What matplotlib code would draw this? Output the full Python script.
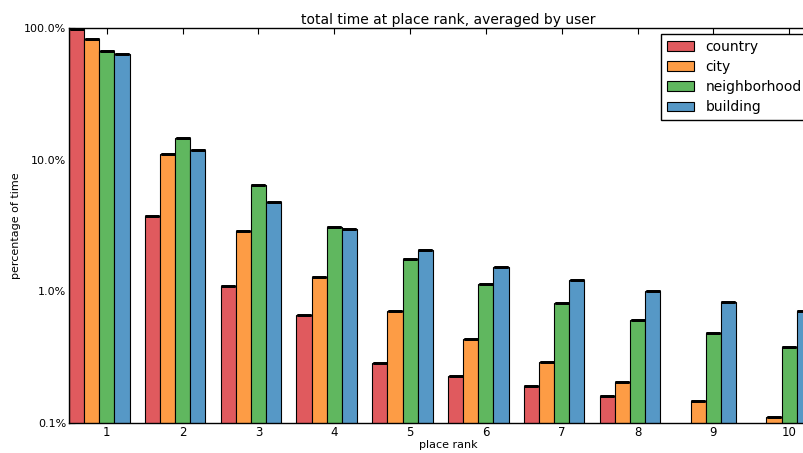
import numpy as np
import matplotlib
matplotlib.use("Agg")
import matplotlib.pyplot as plt
from matplotlib.ticker import FuncFormatter, LogLocator

ranks = [1, 2, 3, 4, 5, 6, 7, 8, 9, 10]
series = ["country", "city", "neighborhood", "building"]
country = [97.7, 3.74, 1.10, 0.665, 0.288, 0.226, 0.192, 0.159, 0.08, 0.07]
city = [83.0, 11.0, 2.88, 1.29, 0.71, 0.433, 0.291, 0.204, 0.147, 0.111]
neighborhood = [67.0, 14.5, 6.43, 3.08, 1.76, 1.145, 0.817, 0.61, 0.481, 0.38]
building = [63.5, 11.85, 4.80, 2.96, 2.06, 1.54, 1.22, 1.0, 0.83, 0.71]
colors = ["#e05a5e", "#fd9c45", "#60b75f", "#5698c6"]

fig = plt.figure(figsize=(8.04, 4.53), dpi=100)
ax = fig.add_axes([69/804, 30/453, (827-69)/804, (423-28)/453])

w = 0.2
x = np.array(ranks, dtype=float)
for k, (name, vals) in enumerate(zip(series, [country, city, neighborhood, building])):
    left = x - 0.5 + k * w
    ax.bar(left, vals, width=w, align="edge", color=colors[k], edgecolor="black",
           linewidth=0.8, label=name, zorder=2)
    ax.errorbar(left + w / 2, vals, yerr=0, fmt="none", ecolor="black",
                capsize=5.2, capthick=2, elinewidth=1, zorder=3)

ax.set_yscale("log")
ax.set_ylim(0.1, 100)
ax.set_xlim(0.5, 10.5)
ax.set_xticks(ranks)
ax.set_xticklabels([str(r) for r in ranks])
ax.yaxis.set_major_locator(LogLocator(base=10))
ax.yaxis.set_major_formatter(FuncFormatter(lambda v, p: "%.1f%%" % v))
ax.tick_params(which="both", direction="in", top=True, right=True, labelsize=8)
ax.tick_params(axis="x", labelsize=8.5)
ax.tick_params(which="major", length=4, pad=2)
ax.tick_params(which="minor", length=2)
ax.tick_params(axis="x", which="minor", bottom=False, top=False)
for s in ax.spines.values():
    s.set_linewidth(1.0)

ax.set_title("total time at place rank, averaged by user", fontsize=10, pad=3)
ax.set_xlabel("place rank", fontsize=8, labelpad=1)
ax.set_ylabel("percentage of time", fontsize=8, labelpad=2)

leg = ax.legend(loc="upper left", bbox_to_anchor=(661/804, 1 - 34/453),
                bbox_transform=fig.transFigure, borderaxespad=0, fontsize=10,
                fancybox=False, framealpha=1, edgecolor="black",
                handlelength=2.0, labelspacing=0.45)
leg.get_frame().set_linewidth(1.0)

fig.savefig("out.png", dpi=100)
